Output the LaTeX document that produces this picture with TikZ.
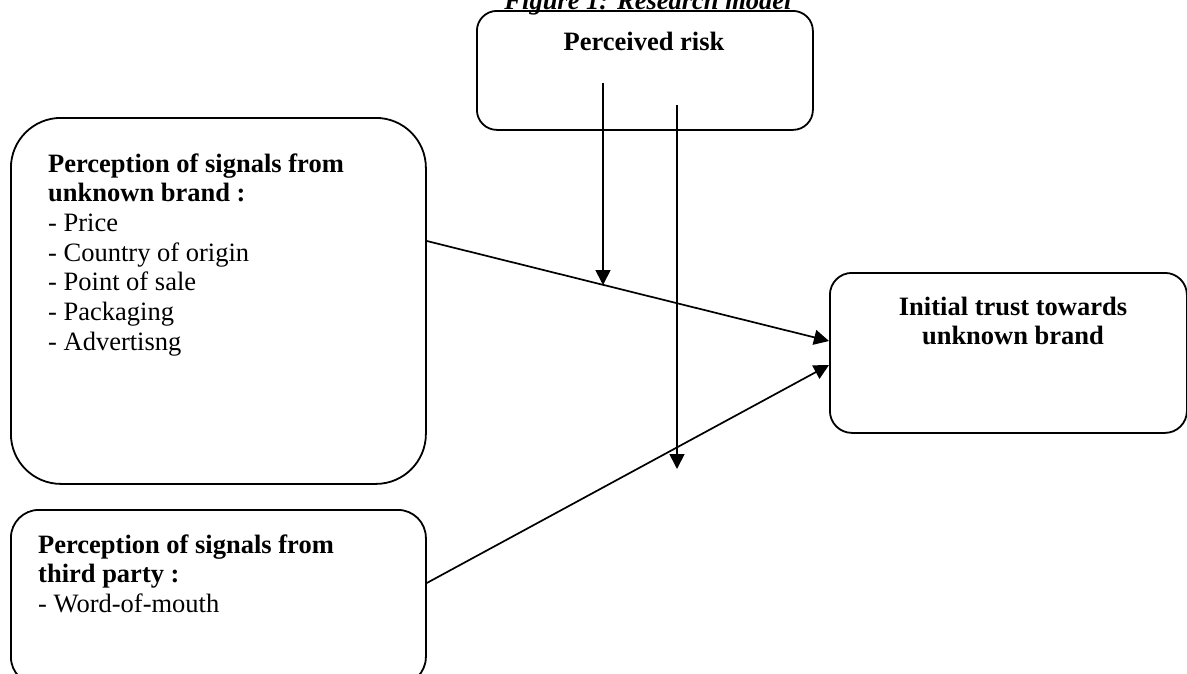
\documentclass[tikz,border=0pt]{standalone}
\usepackage{fontspec}
\setmainfont{Liberation Serif}
\usetikzlibrary{arrows.meta,calc}
\begin{document}
\begin{tikzpicture}[x=1pt,y=-1pt,
  box/.style={draw, line width=1.8pt, rounded corners=#1, inner sep=0pt, anchor=north west},
  txt/.style={inner sep=0pt, font=\fontsize{26.5}{29.7}\selectfont},
  conn/.style={line width=1.7pt, -{Triangle[length=15pt,width=15pt]}}]
\useasboundingbox (0,0) rectangle (1187,673);
\clip (0,0) rectangle (1187,673);
% title (cut at top)
\node[txt, anchor=base] (title) at (648,9) {\textbf{\textit{Figure 1: Research model}}};
% boxes
\node[box=20pt, minimum width=336pt, minimum height=119pt] (risk) at (476,10) {};
\node[box=50pt, minimum width=415pt, minimum height=366pt] (sig) at (10,117) {};
\node[box=28pt, minimum width=415pt, minimum height=175pt] (third) at (10,509) {};
\node[box=22pt, minimum width=357pt, minimum height=160pt] (trust) at (829,272) {};
% texts (base anchor = baseline of the last line)
\node[txt, anchor=base] (risktext) at (644,50) {\textbf{Perceived risk}};
\node[txt, anchor=base west, align=left] (sigtext) at (48,350.2)
  {\textbf{Perception of signals from}\\\textbf{unknown brand :}\\- Price\\- Country of origin\\- Point of sale\\- Packaging\\- Advertisng};
\node[txt, anchor=base west, align=left] (thirdtext) at (38,612.4)
  {\textbf{Perception of signals from}\\\textbf{third party :}\\- Word-of-mouth};
\node[txt, anchor=base, align=center] (trusttext) at (1013,344.7)
  {\textbf{Initial trust towards}\\\textbf{unknown brand}};
% connector points
\coordinate (s1) at ($(sig.north east)+(0,124)$);
\coordinate (t1) at ($(trust.north west)+(0,69)$);
\coordinate (s2) at ($(third.north east)+(0,74)$);
\coordinate (t2) at ($(trust.north west)+(0,93)$);
\coordinate (r1) at ($(risk.north west)+(127,73)$);
\coordinate (r2) at ($(risk.north west)+(201,95)$);
\coordinate (m1) at ($(s1)!0.44!(t1)$);
\coordinate (v2end) at (677,469);
% connectors
\draw[conn] (s1) -- (t1);
\draw[conn] (s2) -- (t2);
\draw[conn] (r1) -- (r1 |- m1);
\draw[conn] (r2) -- (r2 |- v2end);
\end{tikzpicture}
\end{document}
